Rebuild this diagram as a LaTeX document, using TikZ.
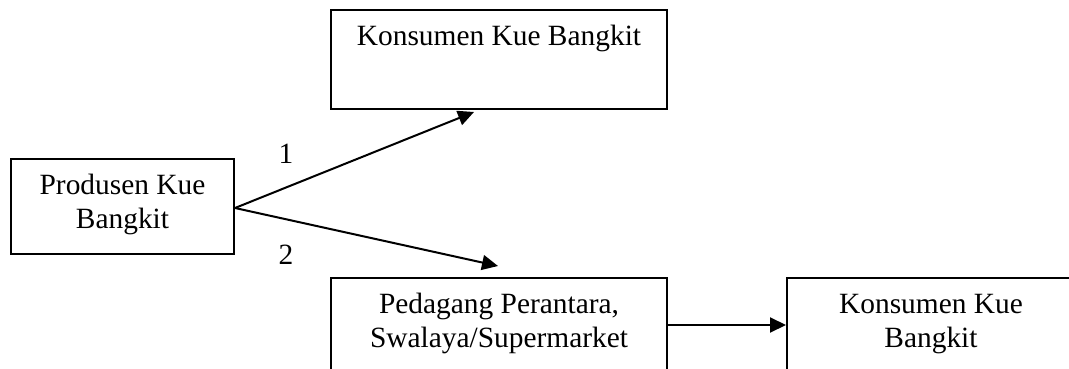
\documentclass[tikz,border=0pt]{standalone}
\usepackage{fontspec}
\setmainfont{Liberation Serif}
\usetikzlibrary{arrows.meta,calc}
\begin{document}
\begin{tikzpicture}[x=1pt,y=-1pt,
  box/.style={draw=black, line width=2pt, rectangle, inner sep=0pt},
  txt/.style={inner sep=0pt, align=center, font=\fontsize{29.4}{34}\selectfont},
  arr/.style={line width=2pt, -{Triangle[length=16pt,width=15pt]}}]
\useasboundingbox (0,0) rectangle (1069,369);
\clip (0,0) rectangle (1069,369);
% boxes
\node[box, minimum width=223pt, minimum height=95pt] (prod) at (122.5,206.5) {};
\node[box, minimum width=336pt, minimum height=99pt] (kb1) at (499,59.5) {};
\node[box, minimum width=336pt, minimum height=122pt] (ped) at (499,339) {};
\node[box, minimum width=288pt, minimum height=122pt] (kb2) at (931,339) {};
% texts
\node[txt, anchor=base] (tprod1) at (122.5,194) {Produsen Kue};
\node[txt, anchor=base] (tprod2) at (122.5,228) {Bangkit};
\node[txt, anchor=base] (tkb1) at (499,46) {Konsumen Kue Bangkit};
\node[txt, anchor=base] (tped1) at (499,313.5) {Pedagang Perantara,};
\node[txt, anchor=base] (tped2) at (499,347.5) {Swalaya/Supermarket};
\node[txt, anchor=base] (tkb21) at (931,313.5) {Konsumen Kue};
\node[txt, anchor=base] (tkb22) at (931,347.5) {Bangkit};
% labels
\node[txt] (l1) at (286,154) {1};
\node[txt] (l2) at (286,255) {2};
% connectors
\coordinate (src) at ($(prod.east)+(0,1.5)$);
\coordinate (t1) at (474,112);
\coordinate (t2) at (498,266);
\draw[arr] (src) -- (t1);
\draw[arr] (src) -- (t2);
\draw[arr] ($(ped.north east)+(0,48)$) -- ($(kb2.north west)+(0,48)$);
\end{tikzpicture}
\end{document}
